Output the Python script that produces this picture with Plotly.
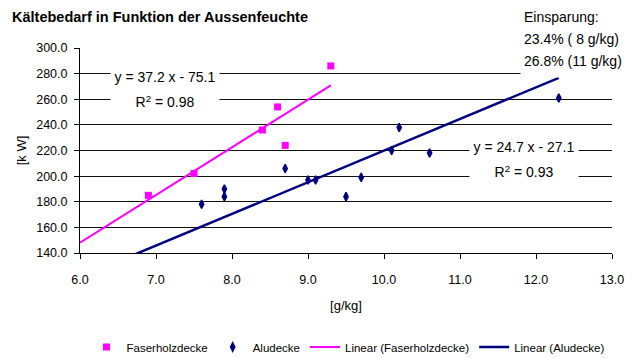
import plotly.graph_objects as go

# Measured values: Faserholzdecke (fibre-wood ceiling)
faser_x = [6.9, 7.5, 8.4, 8.6, 8.7, 9.3]
faser_y = [185, 202, 236, 254, 224, 286]

# Measured values: Aludecke (aluminium ceiling)
alu_x = [7.6, 7.9, 7.9, 8.7, 9.0, 9.1, 9.5, 9.7, 10.1, 10.2, 10.6, 12.3]
alu_y = [178, 190, 184, 206, 197, 197, 184, 199, 220, 238, 218, 261]

# Linear trend coefficients (slope, intercept, R²)
faser_fit = (37.2, -75.1, 0.98)
alu_fit = (24.7, -27.1, 0.93)
trend_start = 6.0

savings_lines = ["Einsparung:", "23.4% ( 8 g/kg)", "26.8% (11 g/kg)"]

x_ticks = [6, 7, 8, 9, 10, 11, 12, 13]
y_ticks = [140, 160, 180, 200, 220, 240, 260, 280, 300]

PINK = "#FF00FF"
NAVY = "#000080"
FONT = "Liberation Sans, Arial, Helvetica, sans-serif"


def trend(fit, xs):
    m, b, _ = fit
    x0, x1 = trend_start, max(xs)
    return [x0, x1], [m * x0 + b, m * x1 + b]


fig = go.Figure()

fig.add_trace(go.Scatter(
    x=faser_x, y=faser_y, mode="markers", name="Faserholzdecke",
    marker=dict(symbol="square", size=7, color=PINK),
))
fig.add_trace(go.Scatter(
    x=alu_x, y=alu_y, mode="markers", name="Aludecke",
    marker=dict(symbol="diamond-tall", size=6, color=NAVY,
                line=dict(color=NAVY, width=1.5)),
))
tx, ty = trend(faser_fit, faser_x)
fig.add_trace(go.Scatter(
    x=tx, y=ty, mode="lines", name="Linear (Faserholzdecke)",
    line=dict(color=PINK, width=2),
))
tx, ty = trend(alu_fit, alu_x)
fig.add_trace(go.Scatter(
    x=tx, y=ty, mode="lines", name="Linear (Aludecke)",
    line=dict(color=NAVY, width=2.5),
))


def eq_text(fit):
    m, b, _ = fit
    sign = "-" if b < 0 else "+"
    return f"y = {m:.1f} x {sign} {abs(b):.1f}"


def r2_text(fit):
    return f"R<sup>2</sup> = {fit[2]:.2f}"


def boxed(text, x, y, width=104, height=19, size=14):
    fig.add_annotation(
        x=x, y=y, xref="paper", yref="paper", text=text, showarrow=False,
        font=dict(family=FONT, size=size, color="#000"),
        bgcolor="white", width=width, height=height, borderpad=2,
        xanchor="center", yanchor="middle",
    )


# Trend-line equations with white label boxes over the grid
boxed(eq_text(faser_fit), 0.1607, 0.860)
boxed(r2_text(faser_fit), 0.1607, 0.738)
boxed(eq_text(alu_fit), 0.835, 0.5185)
boxed(r2_text(alu_fit), 0.835, 0.3966)

# Savings note in the upper right corner
note_tops = [1.2098, 1.1024, 0.9951]
note_heights = [16, 16, 21]
for txt, top, h in zip(savings_lines, note_tops, note_heights):
    fig.add_annotation(
        x=0.828, y=top, xref="paper", yref="paper", text=txt, showarrow=False,
        font=dict(family=FONT, size=14, color="#000"),
        bgcolor="white", width=100, height=h, borderpad=3,
        xanchor="left", yanchor="top", align="left", valign="top",
    )

fig.update_layout(
    width=636, height=358,
    margin=dict(l=80, r=21, t=48, b=105),
    paper_bgcolor="white", plot_bgcolor="white",
    font=dict(family=FONT, size=12.5, color="#000"),
    title=dict(
        text="Kältebedarf in Funktion der Aussenfeuchte",
        font=dict(family=FONT, size=14.5, color="#000", weight="bold"),
        xref="container", yref="container",
        x=12 / 636, y=1 - 17 / 358, xanchor="left", yanchor="middle",
    ),
    showlegend=True,
    legend=dict(
        orientation="h", xref="container", yref="container",
        x=348 / 636, y=1 - 347 / 358, xanchor="center", yanchor="middle",
        font=dict(family=FONT, size=11.5, color="#000"),
        bgcolor="rgba(0,0,0,0)", itemwidth=30, tracegroupgap=0,
    ),
)

fig.update_xaxes(
    range=[6, 13], tickvals=x_ticks, ticktext=[f"{v:.1f}" for v in x_ticks],
    showgrid=False, zeroline=False,
    showline=True, linecolor="#000", linewidth=1,
    ticks="outside", ticklen=5, tickcolor="#000",
    ticklabelstandoff=10,
    title=dict(text="[g/kg]", standoff=14, font=dict(family=FONT, size=13)),
)
fig.update_yaxes(
    range=[140, 300], tickvals=y_ticks, ticktext=[f"{v:.1f}" for v in y_ticks],
    showgrid=True, gridcolor="#111", gridwidth=1, zeroline=False,
    showline=True, linecolor="#000", linewidth=1,
    ticks="outside", ticklen=5, tickcolor="#000",
    ticklabelstandoff=4,
    title=dict(text="[k W]", standoff=6, font=dict(family=FONT, size=13)),
)

fig.write_html("out.html")
